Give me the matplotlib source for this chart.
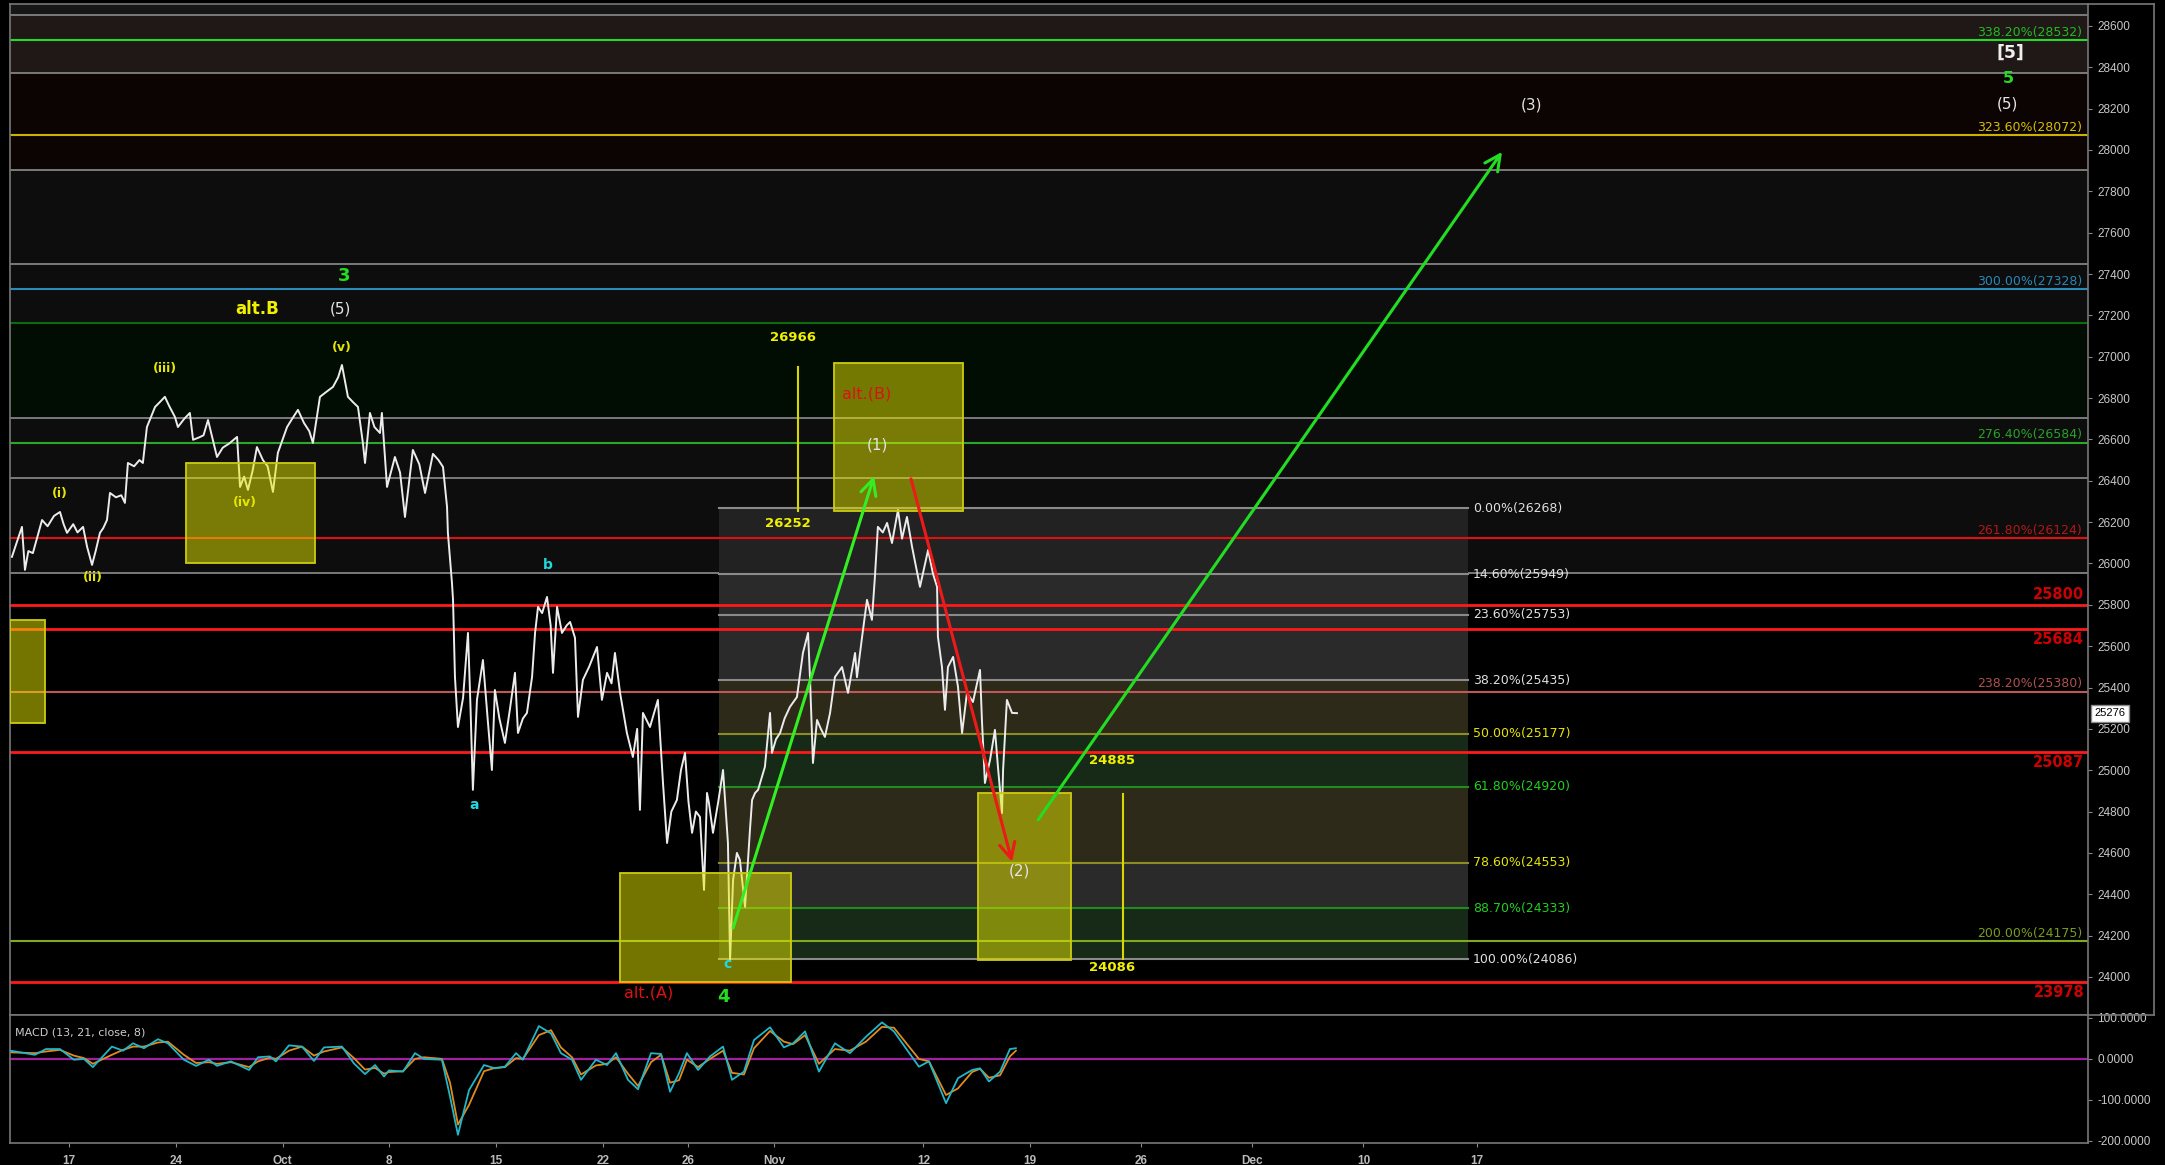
import numpy as np
import matplotlib.pyplot as plt
from matplotlib.patches import Rectangle
from matplotlib.lines import Line2D
from matplotlib.transforms import blended_transform_factory

# x unit = trading days since Mon 17 Sep (weekends removed)
price_t = [-2.67, -2.45, -2.20, -2.06, -1.90, -1.69, -1.50, -1.26, -1.00, -0.70,
           -0.42, -0.25, -0.09, 0.20, 0.40, 0.66, 0.85, 1.08, 1.25, 1.45,
           1.60, 1.78, 1.92, 2.20, 2.45, 2.62, 2.76, 3.05, 3.30, 3.46,
           3.65, 4.03, 4.25, 4.49, 4.70, 4.96, 5.10, 5.40, 5.66, 5.81,
           6.10, 6.30, 6.51, 6.93, 7.20, 7.50, 7.87, 8.01, 8.20, 8.38,
           8.60, 8.80, 9.08, 9.30, 9.55, 9.78, 10.21, 10.45, 10.72, 11.00,
           11.25, 11.42, 11.75, 12.05, 12.36, 12.60, 12.78, 13.06, 13.30, 13.53,
           13.76, 13.86, 14.09, 14.30, 14.56, 14.65, 14.89, 15.26, 15.50, 15.73,
           16.10, 16.40, 16.67, 17.04, 17.30, 17.51, 17.70, 17.74, 17.93, 17.98,
           18.07, 18.21, 18.45, 18.68, 18.80, 18.91, 19.10, 19.38, 19.60, 19.80,
           19.94, 20.15, 20.41, 20.65, 20.88, 21.02, 21.25, 21.44, 21.68, 21.82,
           21.96, 22.15, 22.38, 22.55, 22.66, 22.85, 23.08, 23.30, 23.46, 23.69,
           23.83, 24.06, 24.35, 24.72, 24.95, 25.19, 25.40, 25.56, 25.80, 26.12,
           26.40, 26.60, 26.73, 26.87, 27.20, 27.57, 27.81, 28.00, 28.20, 28.46,
           28.65, 28.84, 29.00, 29.17, 29.35, 29.54, 29.73, 29.87, 29.96, 30.15,
           30.40, 30.62, 30.85, 30.95, 31.09, 31.27, 31.41, 31.65, 31.88, 31.98,
           32.12, 32.26, 32.58, 32.82, 32.91, 33.10, 33.29, 33.50, 33.75, 34.08,
           34.36, 34.60, 34.69, 34.83, 35.02, 35.20, 35.39, 35.63, 35.86, 36.19,
           36.47, 36.80, 36.89, 37.13, 37.36, 37.59, 37.73, 37.87, 38.10, 38.30,
           38.53, 38.81, 39.00, 39.23, 39.47, 39.84, 40.22, 40.45, 40.64, 40.68,
           40.87, 41.01, 41.15, 41.39, 41.62, 41.81, 42.04, 42.32, 42.65, 42.74,
           42.88, 43.12, 43.35, 43.49, 43.68, 43.73, 43.91, 44.15, 44.38]
price_v = [26032, 26100, 26177, 25969, 26060, 26050, 26120, 26210, 26180, 26230,
           26249, 26190, 26148, 26190, 26150, 26177, 26080, 25993, 26060, 26148,
           26170, 26210, 26341, 26320, 26330, 26293, 26486, 26470, 26500, 26486,
           26660, 26757, 26780, 26806, 26760, 26709, 26660, 26700, 26728, 26598,
           26610, 26620, 26694, 26515, 26560, 26580, 26612, 26370, 26420, 26356,
           26450, 26563, 26500, 26470, 26346, 26535, 26660, 26700, 26743, 26680,
           26640, 26583, 26806, 26830, 26854, 26900, 26960, 26806, 26780, 26757,
           26583, 26486, 26728, 26660, 26631, 26728, 26370, 26515, 26440, 26225,
           26549, 26480, 26341, 26530, 26500, 26467, 26273, 26148, 25906, 25824,
           25451, 25209, 25350, 25664, 25300, 24905, 25340, 25533, 25250, 25001,
           25388, 25250, 25132, 25300, 25471, 25180, 25250, 25277, 25451, 25664,
           25790, 25760, 25838, 25700, 25471, 25790, 25664, 25700, 25717, 25640,
           25258, 25437, 25500, 25596, 25340, 25471, 25420, 25567, 25374, 25180,
           25064, 25200, 24808, 25277, 25209, 25340, 24938, 24648, 24800, 24856,
           25000, 25084, 24850, 24697, 24800, 24774, 24421, 24890, 24842, 24697,
           24850, 25001, 24648, 24082, 24469, 24600, 24566, 24339, 24711, 24856,
           24890, 24905, 25016, 25277, 25084, 25150, 25180, 25250, 25306, 25354,
           25567, 25664, 25450, 25035, 25243, 25200, 25161, 25277, 25451, 25499,
           25374, 25567, 25450, 25645, 25824, 25727, 25935, 26177, 26150, 26196,
           26099, 26259, 26120, 26225, 26080, 25887, 26065, 25950, 25887, 25645,
           25499, 25292, 25499, 25548, 25403, 25180, 25374, 25330, 25485, 25243,
           24938, 25050, 25195, 25016, 24793, 25000, 25340, 25277, 25276]
last_price = 25276

macd_t = [-2.74, -1.59, -1.08, -0.42, 0.23, 0.70, 1.12, 2.01, 2.53, 3.00,
          3.51, 4.17, 4.63, 5.38, 5.95, 6.55, 6.93, 7.58, 8.43, 8.85,
          9.41, 9.69, 10.30, 10.91, 11.47, 11.94, 12.78, 13.34, 13.86, 14.33,
          14.75, 14.98, 15.64, 16.20, 16.62, 17.46, 17.84, 18.21, 18.73, 19.43,
          19.94, 20.41, 20.93, 21.25, 22.00, 22.57, 23.03, 23.55, 23.97, 24.67,
          25.19, 25.61, 26.17, 26.64, 27.25, 27.72, 28.14, 28.56, 28.93, 29.45,
          30.01, 30.62, 31.04, 31.60, 32.07, 32.82, 33.47, 33.90, 34.46, 35.11,
          35.86, 36.56, 37.31, 38.06, 38.62, 39.79, 40.26, 41.06, 41.62, 42.28,
          42.65, 43.07, 43.59, 44.05, 44.33]
macd_v = [20, 10, 24, 24, -2, 0, -20, 30, 20, 38,
          26, 48, 38, -2, -17, -2, -17, -6, -27, 4,
          6, -6, 33, 30, -5, 28, 30, -11, -37, -15,
          -43, -28, -31, 14, 0, -2, -92, -185, -76, -15,
          -23, -19, 14, -2, 80, 62, 14, -2, -51, -2,
          -15, 14, -51, -74, 14, 12, -80, -35, 14, -27,
          6, 30, -51, -31, 46, 77, 28, 38, 67, -31,
          38, 14, 54, 89, 67, -19, -6, -108, -47, -27,
          -23, -55, -31, 24, 26]
signal_v = [16, 14, 18, 22, 8, 2, -12, 10, 22, 30,
            30, 40, 42, 10, -10, -8, -12, -8, -20, -6,
            3, 0, 20, 30, 8, 18, 28, 2, -26, -22,
            -36, -32, -30, 0, 4, 0, -58, -160, -112, -30,
            -22, -20, 2, 0, 58, 70, 28, 4, -38, -16,
            -12, 4, -36, -66, -8, 10, -58, -52, -2, -20,
            0, 20, -34, -38, 26, 68, 42, 36, 58, -12,
            24, 20, 42, 78, 76, 0, -6, -88, -72, -32,
            -24, -46, -40, 6, 20]

date_labels = ['17', '24', 'Oct', '8', '15', '22', '26', 'Nov', '12', '19', '26', 'Dec', '10', '17']
date_t = [0, 5, 10, 15, 20, 25, 29, 33, 40, 45, 50.2, 55.4, 60.6, 65.9]

# background zones (lo, hi, colour) and their grey borders
zone_edges = [28652, 28371, 27903, 27449, 26704, 26414, 25955]
zones = [(28652, 28800, '#161616'), (28371, 28652, '#1f1817'), (27903, 28371, '#0c0303'),
         (27449, 27903, '#0d0d0d'), (27164, 27449, '#0d0d0d'), (26704, 27164, '#010d03'),
         (26414, 26704, '#0d0d0d'), (25955, 26414, '#0d0d0d')]

# fib extension levels
ext_pct = [338.2, 323.6, 300.0, 276.4, 261.8, 238.2, 200.0]
ext_val = [28532, 28072, 27328, 26584, 26124, 25380, 24175]
ext_line = ['#22dd22', '#c8b400', '#2a8ab8', '#2aa82a', '#e01010', '#c05858', '#7faa20']
ext_text = ['#22bb22', '#d4c000', '#2a86b4', '#2aa02a', '#b01818', '#b05050', '#7a9a20']

red_levels = [25800, 25684, 25087, 23978]
red_above = [True, False, False, False]

# fib retracement of the Oct/Nov swing
ret_pct = [0.0, 14.6, 23.6, 38.2, 50.0, 61.8, 78.6, 88.7, 100.0]
ret_val = [26268, 25949, 25753, 25435, 25177, 24920, 24553, 24333, 24086]
ret_span = (30.43, 65.5)
ret_fill = ['#222222', '#2a2a2a', '#2a2a2a', '#2d2a19', '#172a17', '#2d2a19', '#2a2a2a', '#172a17']
ret_line = ['#8a8a8a', '#8a8a8a', '#8a8a8a', '#8a8a8a', '#8c8c22', '#1f8c1f', '#8c8c22', '#1f8c1f', '#8a8a8a']
ret_text = ['#e0e0e0', '#e0e0e0', '#e0e0e0', '#e0e0e0', '#e6e600', '#1fd01f', '#e6e600', '#1fd01f', '#e0e0e0']

# yellow target boxes: (t0, t1, low, high)
boxes = [(-2.76, -1.12, 25229, 25727), (5.48, 11.52, 26003, 26486), (25.80, 33.80, 23976, 24503),
         (35.81, 41.85, 26254, 26970), (42.56, 46.91, 24083, 24890)]

# measured ranges: (t, low, high)
ranges = [(34.13, 26252, 26950), (49.34, 24086, 24885)]
range_labels = [('26966', 33.9, 27091), ('26252', 33.66, 26191), ('24885', 48.83, 25045), ('24086', 48.83, 24044)]

# projected paths: (t0, p0, t1, p1, colour)
arrows = [(31.09, 24237, 37.69, 26423, '#33ee22'), (39.42, 26409, 44.15, 24557, '#ee1a1a'),
          (45.37, 24760, 67.09, 27991, '#22dd22')]

# wave count labels: (text, t, price, kind)
waves = [('3', 12.87, 27391, 'green'), ('alt.B', 8.80, 27231, 'altb'), ('(5)', 12.69, 27231, 'white'),
         ('(v)', 12.78, 27043, 'minor'), ('(iii)', 4.49, 26941, 'minor'), ('(i)', -0.42, 26336, 'minor'),
         ('(ii)', 1.12, 25930, 'minor'), ('(iv)', 8.24, 26293, 'minor'),
         ('a', 18.96, 24832, 'cyan'), ('b', 22.43, 25993, 'cyan'), ('c', 30.85, 24063, 'cyan'),
         ('4', 30.66, 23904, 'green'), ('alt.(A)', 27.15, 23923, 'red'), ('alt.(B)', 37.36, 26820, 'red'),
         ('(1)', 37.87, 26573, 'white'), ('(2)', 44.48, 24513, 'white'), ('(3)', 68.45, 28218, 'white'),
         ('[5]', 90.87, 28469, 'big'), ('5', 90.8, 28348, 'green5'), ('(5)', 90.75, 28223, 'white')]
wave_style = {
    'green': dict(color='#22dd22', size=13, weight='bold'),
    'green5': dict(color='#22dd22', size=11.5, weight='bold'),
    'altb': dict(color='#f0f000', size=12, weight='bold'),
    'white': dict(color='#e4e4e4', size=11, weight='normal'),
    'big': dict(color='#eeeeee', size=12.5, weight='bold'),
    'minor': dict(color='#e6e600', size=9, weight='bold'),
    'cyan': dict(color='#22d8e0', size=10, weight='bold'),
    'red': dict(color='#dd1111', size=11.5, weight='normal'),
}

W, H = 2165, 1165
fig = plt.figure(figsize=(W / 100, H / 100), dpi=100, facecolor='black')
ax = fig.add_axes([10 / W, 1 - 1015 / H, 2078 / W, 1011 / H], facecolor='black')
mx = fig.add_axes([10 / W, 1 - 1143 / H, 2078 / W, 128 / H], facecolor='black', sharex=ax)
ax.set_xlim(-2.76, 94.52)
ax.set_ylim(23816, 28706)
mx.set_ylim(-205, 107)

for lo, hi, c in zones:
    ax.axhspan(lo, hi, color=c, zorder=0, lw=0)
for p in zone_edges:
    ax.axhline(p, color='#7a7a7a', lw=1.4, zorder=1)
ax.axhline(27164, color='#0f6a0f', lw=1.5, zorder=1)

# retracement block
t0, t1 = ret_span
for i in range(len(ret_val) - 1):
    ax.add_patch(Rectangle((t0, ret_val[i + 1]), t1 - t0, ret_val[i] - ret_val[i + 1],
                           facecolor=ret_fill[i], lw=0, zorder=1.5))
for pct, val, lc, tc in zip(ret_pct, ret_val, ret_line, ret_text):
    ax.plot([t0, t1], [val, val], color=lc, lw=1.5, zorder=2)
    ax.text(t1 + 0.23, val, f'{pct:.2f}%({val})', color=tc, fontsize=9,
            ha='left', va='center', zorder=6)

# extension levels, full width
xr = 94.24
for pct, val, lc, tc in zip(ext_pct, ext_val, ext_line, ext_text):
    ax.axhline(val, color=lc, lw=1.5, zorder=2)
    ax.text(xr, val + 6, f'{pct:.2f}%({val})', color=tc, fontsize=9,
            ha='right', va='bottom', zorder=6)

for val, above in zip(red_levels, red_above):
    ax.axhline(val, color='#ff1a1a', lw=2, zorder=2)
    ax.text(xr + 0.1, val + (15 if above else -15), str(val), color='#cc0000', fontsize=10.5,
            fontweight='bold', ha='right', va='bottom' if above else 'top', zorder=6)

ax.plot(price_t, price_v, color='#ececec', lw=1.4, zorder=3)

for b0, b1, lo, hi in boxes:
    ax.add_patch(Rectangle((b0, lo), b1 - b0, hi - lo, facecolor='#e8e800', alpha=0.5,
                           edgecolor='none', zorder=3.5))
    ax.add_patch(Rectangle((b0, lo), b1 - b0, hi - lo, facecolor='none',
                           edgecolor='#cccc10', lw=1.3, zorder=3.6))

for t, lo, hi in ranges:
    ax.plot([t, t], [lo, hi], color='#d8d800', lw=1.5, zorder=4)
for s, t, p in range_labels:
    ax.text(t, p, s, color='#f0f000', fontsize=9.5, fontweight='bold', ha='center', va='center', zorder=6)

for a0, p0, a1, p1, c in arrows:
    ax.annotate('', xy=(a1, p1), xytext=(a0, p0),
                arrowprops=dict(arrowstyle='->', color=c, lw=2.2, mutation_scale=28,
                                shrinkA=0, shrinkB=0), zorder=5)

for s, t, p, kind in waves:
    ax.text(t, p, s, ha='center', va='center', zorder=6, **wave_style[kind])

# axes styling
for a in (ax, mx):
    for sp in a.spines.values():
        sp.set_color('#777777')
        sp.set_linewidth(1.2)
    a.yaxis.tick_right()
    a.tick_params(axis='y', colors='#888888', labelcolor='#c8c8c8', labelsize=8.5, length=3)
ax.set_yticks(np.arange(24000, 28601, 200))
ax.set_yticklabels([str(v) for v in range(24000, 28601, 200)], fontfamily='Liberation Sans')
ax.tick_params(axis='x', bottom=False, labelbottom=False)
mx.set_yticks([100, 0, -100, -200])
mx.set_yticklabels([f'{v:.4f}' for v in [100, 0, -100, -200]], fontfamily='Liberation Sans')
mx.set_xticks(date_t)
mx.set_xticklabels(date_labels, fontfamily='Liberation Sans', fontweight='bold')
mx.tick_params(axis='x', colors='#888888', labelcolor='#bbbbbb', labelsize=8.5, length=3, pad=6)

tr = blended_transform_factory(ax.transAxes, ax.transData)
ax.text(1.003, last_price, str(last_price), transform=tr, ha='left', va='center', color='black',
        fontsize=8, fontfamily='Liberation Sans',
        bbox=dict(facecolor='white', edgecolor='#888888', pad=2.5), zorder=7, clip_on=False)

# MACD panel
mx.axhline(0, color='#a020a0', lw=1.6, zorder=1)
mx.plot(macd_t, signal_v, color='#e08a20', lw=1.3, zorder=2)
mx.plot(macd_t, macd_v, color='#20b8c8', lw=1.3, zorder=3)
mx.text(0.0025, 0.86, 'MACD (13, 21, close, 8)', transform=mx.transAxes, color='#cccccc',
        fontsize=8, ha='left', va='center')

# outer frame at the far right
fig.add_artist(Line2D([2088 / W, 2154 / W], [1 - 4 / H, 1 - 4 / H], transform=fig.transFigure, color='#777777', lw=1.2))
fig.add_artist(Line2D([2154 / W, 2154 / W], [1 - 4 / H, 1 - 1015 / H], transform=fig.transFigure, color='#777777', lw=1.2))
fig.add_artist(Line2D([2088 / W, 2154 / W], [1 - 1015 / H, 1 - 1015 / H], transform=fig.transFigure, color='#777777', lw=1.2))

fig.savefig('out.png', dpi=100, facecolor='black')
